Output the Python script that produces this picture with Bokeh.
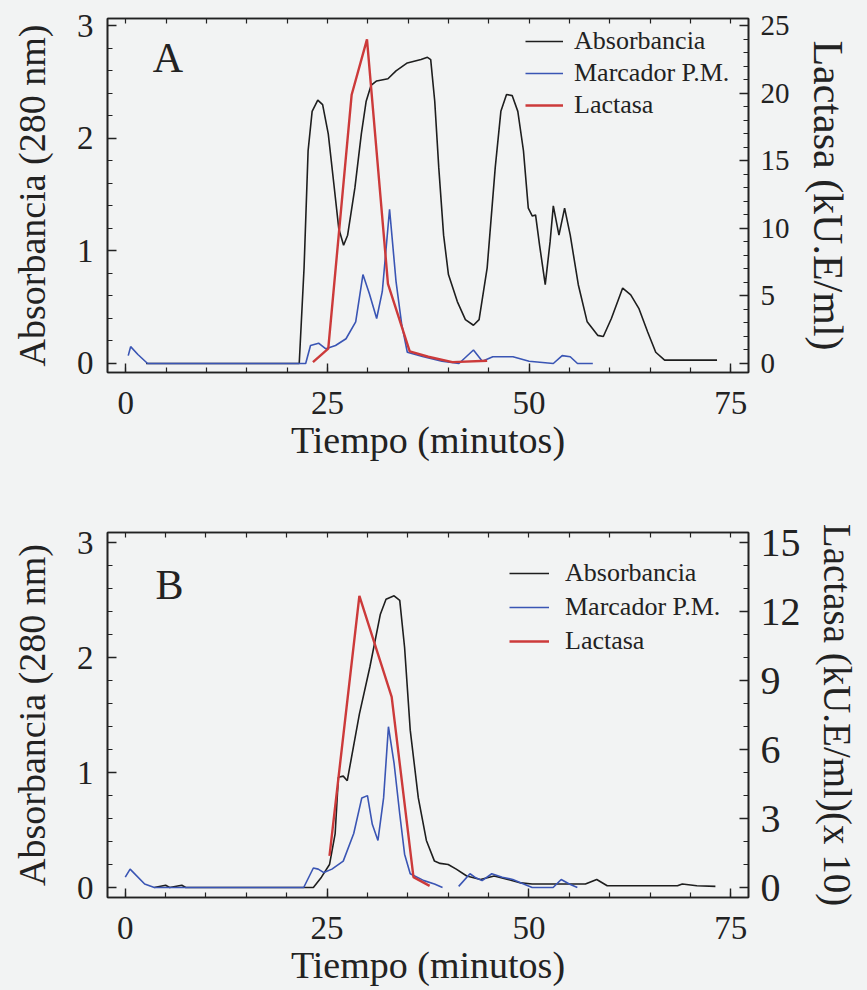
import math
from bokeh.plotting import figure
from bokeh.models import Range1d, LinearAxis, FixedTicker, Legend, LegendItem, Label
from bokeh.layouts import column
from bokeh.embed import file_html
from bokeh.resources import INLINE

nan = float("nan")

# ---------------- data ----------------
x_ticks = [0, 25, 50, 75]
x_minor = list(range(0, 80, 5))
left_ticks = [0, 1, 2, 3]
left_minor = [round(0.2 * i, 1) for i in range(0, 16)]
a_right_ticks = [0, 5, 10, 15, 20, 25]
a_right_minor = list(range(0, 26))
b_right_ticks = [0, 3, 6, 9, 12, 15]
b_right_minor = list(range(0, 16))

series_names = ["Absorbancia", "Marcador P.M.", "Lactasa"]

# Panel A
a_abs_t = [2.5, 21.5, 22.1, 22.6, 23.1, 23.8, 24.4, 25.1, 25.8, 26.4, 27.0, 27.5, 28.4, 29.2, 29.8,
           30.4, 31.1, 32.5, 33.5, 34.9, 36.6, 37.4, 37.8, 38.3, 38.8, 39.4, 40.0, 41.1, 42.1, 43.1,
           43.8, 44.8, 45.8, 46.5, 47.2, 47.9, 48.6, 49.3, 49.9, 50.4, 50.8, 51.3, 52.0, 52.6, 53.0,
           53.7, 54.4, 55.1, 56.1, 57.2, 58.5, 59.2, 60.2, 61.6, 62.6, 63.6, 64.7, 65.7, 66.8, 73.3]
a_abs_v = [0.0, 0.0, 0.85, 1.89, 2.24, 2.34, 2.30, 2.04, 1.59, 1.20, 1.05, 1.14, 1.56, 2.04, 2.33,
           2.47, 2.51, 2.53, 2.60, 2.67, 2.70, 2.72, 2.70, 2.33, 1.74, 1.14, 0.79, 0.55, 0.39, 0.34,
           0.39, 0.85, 1.74, 2.24, 2.39, 2.38, 2.24, 1.89, 1.38, 1.31, 1.32, 1.05, 0.70, 1.08, 1.40,
           1.14, 1.38, 1.14, 0.70, 0.37, 0.25, 0.24, 0.40, 0.67, 0.61, 0.49, 0.28, 0.10, 0.03, 0.03]
a_pm_t = [0.3, 0.6, 1.5, 2.7, 22.3, 22.9, 23.9, 24.8, 26.0, 27.3, 28.5, 29.4, 30.2, 31.1, 31.8,
          32.7, 33.5, 34.2, 34.9, 36.9, 39.2, 41.3, 43.1, 44.2, 45.5, 48.0, 50.0, 53.0, 54.1, 55.1,
          56.0, 57.9]
a_pm_v = [0.07, 0.15, 0.08, 0.0, 0.0, 0.16, 0.18, 0.13, 0.16, 0.22, 0.37, 0.79, 0.62, 0.40, 0.64,
          1.37, 0.73, 0.35, 0.10, 0.06, 0.02, 0.0, 0.12, 0.02, 0.06, 0.06, 0.02, 0.0, 0.07, 0.06,
          0.0, 0.0]
a_lac_t = [23.2, 25.1, 28.0, 29.9, 32.5, 35.2, 37.5, 40.5, 44.8]
a_lac_v = [0.1, 1.1, 19.9, 24.0, 5.9, 0.9, 0.5, 0.1, 0.2]

# Panel B
b_abs_t = [3.6, 5.0, 5.5, 7.0, 7.5, 23.3, 24.3, 25.3, 26.0, 26.4, 27.0, 27.5, 29.0, 30.3, 31.6,
           32.3, 33.3, 34.0, 34.6, 35.3, 36.3, 37.3, 38.3, 39.0, 40.0, 41.0, 42.3, 44.0, 45.7, 47.4,
           49.0, 50.4, 57.0, 58.4, 59.7, 68.4, 69.0, 70.8, 73.1]
b_abs_v = [0.0, 0.02, 0.0, 0.02, 0.0, 0.0, 0.09, 0.20, 0.47, 0.96, 0.97, 0.93, 1.51, 1.92, 2.38,
           2.51, 2.54, 2.50, 2.09, 1.37, 0.78, 0.41, 0.23, 0.21, 0.20, 0.16, 0.10, 0.07, 0.10, 0.07,
           0.04, 0.03, 0.03, 0.07, 0.015, 0.015, 0.03, 0.015, 0.01]
b_pm_t = [0.0, 0.6, 2.4, 3.6, 22.1, 23.3, 23.9, 24.6, 25.6, 27.0, 28.3, 29.3, 30.0, 30.6, 31.3,
          32.0, 32.6, 33.3, 34.0, 34.6, 35.3, 37.0, 38.3, 39.3, 40.3, 41.3, 42.7, 43.3, 44.2, 45.4,
          46.7, 48.0, 50.4, 53.0, 54.0, 55.0, 56.0]
b_pm_v = [0.09, 0.16, 0.03, 0.0, 0.0, 0.17, 0.16, 0.13, 0.16, 0.23, 0.47, 0.78, 0.80, 0.55, 0.41,
          0.78, 1.40, 1.08, 0.64, 0.29, 0.12, 0.06, 0.03, 0.0, nan, 0.01, 0.12, 0.09, 0.06, 0.12,
          0.09, 0.07, 0.0, 0.0, 0.07, 0.03, 0.0]
b_lac_t = [25.3, 29.0, 33.0, 35.7, 37.7]
b_lac_v = [1.38, 12.7, 8.3, 0.45, 0.07]

# ---------------- style ----------------
FONT = "Liberation Serif"
BG = "#f2f3f3"
TXT = "#222222"
C_ABS = "#1e1e1e"
C_PM = "#3a55b4"
C_LAC = "#cc3a3a"


def style_axis(ax, label_size, tick_size):
    ax.axis_line_width = 1.6
    ax.axis_line_color = TXT
    ax.major_tick_in = 9
    ax.major_tick_out = 0
    ax.minor_tick_in = 5
    ax.minor_tick_out = 0
    ax.major_tick_line_width = 1.4
    ax.minor_tick_line_width = 1.2
    ax.major_tick_line_color = TXT
    ax.minor_tick_line_color = TXT
    ax.major_label_text_font = FONT
    ax.major_label_text_font_size = tick_size
    ax.major_label_text_color = TXT
    ax.axis_label_text_font = FONT
    ax.axis_label_text_font_size = label_size
    ax.axis_label_text_font_style = "normal"
    ax.axis_label_text_color = TXT


def panel(height, borders, xr, yr, y2r, right_ticks, right_minor, right_label, right_tick_size,
          right_label_size, right_label_standoff, abs_t, abs_v, pm_t, pm_v, lac_t, lac_v,
          letter, letter_xy, leg_loc, leg_spacing, leg_glyph_w, leg_standoff):
    p = figure(width=867, height=height, output_backend="svg", toolbar_location=None,
               x_range=Range1d(*xr), y_range=Range1d(*yr),
               min_border_left=borders[0], min_border_right=borders[1],
               min_border_top=borders[2], min_border_bottom=borders[3],
               x_axis_label="Tiempo (minutos)", y_axis_label="Absorbancia (280 nm)")
    p.extra_y_ranges = {"lac": Range1d(*y2r)}
    p.background_fill_color = BG
    p.border_fill_color = BG
    p.outline_line_color = TXT
    p.outline_line_width = 1.6
    p.grid.visible = False

    p.xaxis.ticker = FixedTicker(ticks=x_ticks, minor_ticks=x_minor)
    p.yaxis.ticker = FixedTicker(ticks=left_ticks, minor_ticks=left_minor)
    for ax in p.xaxis:
        style_axis(ax, "38px", "33px")
        ax.major_label_standoff = 19
        ax.axis_label_standoff = 2
    for ax in p.yaxis:
        style_axis(ax, "38px", "33px")
        ax.major_label_standoff = 14
        ax.axis_label_standoff = 21

    rax = LinearAxis(y_range_name="lac", axis_label=right_label,
                     ticker=FixedTicker(ticks=right_ticks, minor_ticks=right_minor))
    style_axis(rax, right_label_size, right_tick_size)
    rax.major_label_standoff = 12
    rax.axis_label_standoff = right_label_standoff
    p.add_layout(rax, "right")

    tax = LinearAxis(ticker=FixedTicker(ticks=[], minor_ticks=x_minor))
    style_axis(tax, "10px", "0px")
    tax.major_label_standoff = 0
    p.add_layout(tax, "above")

    r_abs = p.line(abs_t, abs_v, line_color=C_ABS, line_width=1.6)
    r_pm = p.line(pm_t, pm_v, line_color=C_PM, line_width=1.6)
    r_lac = p.line(lac_t, lac_v, line_color=C_LAC, line_width=2.4, y_range_name="lac")

    leg = Legend(items=[LegendItem(label=series_names[0], renderers=[r_abs]),
                        LegendItem(label=series_names[1], renderers=[r_pm]),
                        LegendItem(label=series_names[2], renderers=[r_lac])],
                 location=leg_loc)
    leg.border_line_color = None
    leg.background_fill_alpha = 0
    leg.padding = 0
    leg.margin = 0
    leg.spacing = leg_spacing
    leg.glyph_width = leg_glyph_w
    leg.glyph_height = 30
    leg.label_height = 30
    leg.label_standoff = leg_standoff
    leg.label_text_font = FONT
    leg.label_text_font_size = "26px"
    leg.label_text_color = TXT
    p.add_layout(leg)

    p.add_layout(Label(x=letter_xy[0], y=letter_xy[1], text=letter, text_font=FONT,
                       text_font_size="42px", text_color=TXT, text_align="left",
                       text_baseline="alphabetic"))
    return p


pa = panel(488, (107, 119, 18, 116), (-2.27, 77.2), (-0.08, 3.065),
           (-0.08 * 25 / 3, 3.065 * 25 / 3), a_right_ticks, a_right_minor, "Lactasa (kU.E/ml)",
           "29px", "42px", 12,
           a_abs_t, a_abs_v, a_pm_t, a_pm_v, a_lac_t, a_lac_v, "A", (3.35, 2.714),
           (418, 252), 2, 38, 11)
pb = panel(502, (102, 109, 44, 93), (-2.2, 77.2), (-0.087, 3.091),
           (-0.087 * 5, 3.091 * 5), b_right_ticks, b_right_minor, "Lactasa (kU.E/ml)(x 10)",
           "40px", "39px", 12,
           b_abs_t, b_abs_v, b_pm_t, b_pm_v, b_lac_t, b_lac_v, "B", (3.75, 2.635),
           (402, 241), 4, 40, 16)

layout = column(pa, pb, spacing=0)
html = file_html(layout, INLINE)
css = "<style>html,body{overflow:hidden;background:%s;}</style>" % BG
html = html.replace("<head>", "<head>" + css, 1)
open("out.html", "w").write(html)
